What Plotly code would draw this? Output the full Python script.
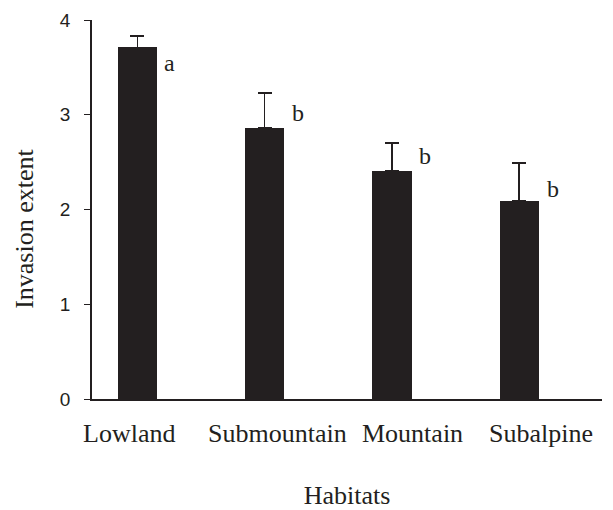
import plotly.graph_objects as go

# Mean invasion extent per habitat, with the upper error (SE) and group letters
habitats = ["Lowland", "Submountain", "Mountain", "Subalpine"]
invasion_extent = [3.71, 2.86, 2.41, 2.09]
error_upper = [0.12, 0.37, 0.29, 0.40]
group_letters = ["a", "b", "b", "b"]
y_ticks = [0, 1, 2, 3, 4]

INK = "#231f20"
SERIF = "Liberation Serif, Times New Roman, serif"
SANS = "Liberation Sans, Arial, sans-serif"

fig = go.Figure(
    go.Bar(
        x=habitats,
        y=invasion_extent,
        width=0.31,
        marker=dict(color=INK, line=dict(width=0)),
        error_y=dict(
            type="data",
            symmetric=False,
            array=error_upper,
            arrayminus=[0] * len(error_upper),
            color=INK,
            thickness=1.6,
            width=7,
        ),
        hoverinfo="skip",
    )
)

# Significance letters beside each bar (pixel offsets from the bar top)
letter_shift = [(32, -16), (33, 15), (33, 15), (34, 12)]
for i, (h, v, letter) in enumerate(zip(habitats, invasion_extent, group_letters)):
    dx, dy = letter_shift[i]
    fig.add_annotation(
        x=i, y=v, xref="x", yref="y",
        text=letter, showarrow=False,
        xshift=dx, yshift=dy,
        font=dict(family=SERIF, size=24, color=INK),
        xanchor="center", yanchor="middle",
    )

# Habitat names under the axis
label_shift = [-8, 13, 21, 22]
for i, h in enumerate(habitats):
    fig.add_annotation(
        x=i, y=0, xref="x", yref="y",
        text=h, showarrow=False,
        xshift=label_shift[i], yshift=-34,
        font=dict(family=SERIF, size=26, color=INK),
        xanchor="center", yanchor="middle",
    )

# Vertical axis title, set slightly below the middle of the axis
fig.add_annotation(
    x=0, y=0.449, xref="paper", yref="paper",
    text="Invasion extent", showarrow=False,
    textangle=-90, xshift=-67,
    font=dict(family=SERIF, size=26, color=INK),
    xanchor="center", yanchor="middle",
)

fig.update_layout(
    width=613,
    height=510,
    margin=dict(l=92, r=11, t=20, b=111),
    plot_bgcolor="white",
    paper_bgcolor="white",
    showlegend=False,
    bargap=0,
    xaxis=dict(
        type="category",
        range=[-0.356, 3.65],
        automargin=False,
        showticklabels=False,
        ticks="",
        showgrid=False,
        zeroline=False,
        showline=True,
        linecolor=INK,
        linewidth=1.6,
        title=dict(
            text="Habitats",
            font=dict(family=SERIF, size=26, color=INK),
            standoff=89,
        ),
    ),
    yaxis=dict(
        range=[0, 4],
        tickvals=y_ticks,
        automargin=False,
        ticks="outside",
        ticklen=6,
        tickwidth=1.4,
        tickcolor=INK,
        ticklabelstandoff=10,
        tickfont=dict(family=SANS, size=19, color=INK),
        showgrid=False,
        zeroline=False,
        showline=True,
        linecolor=INK,
        linewidth=1.6,
    ),
)

fig.write_html("out.html")
